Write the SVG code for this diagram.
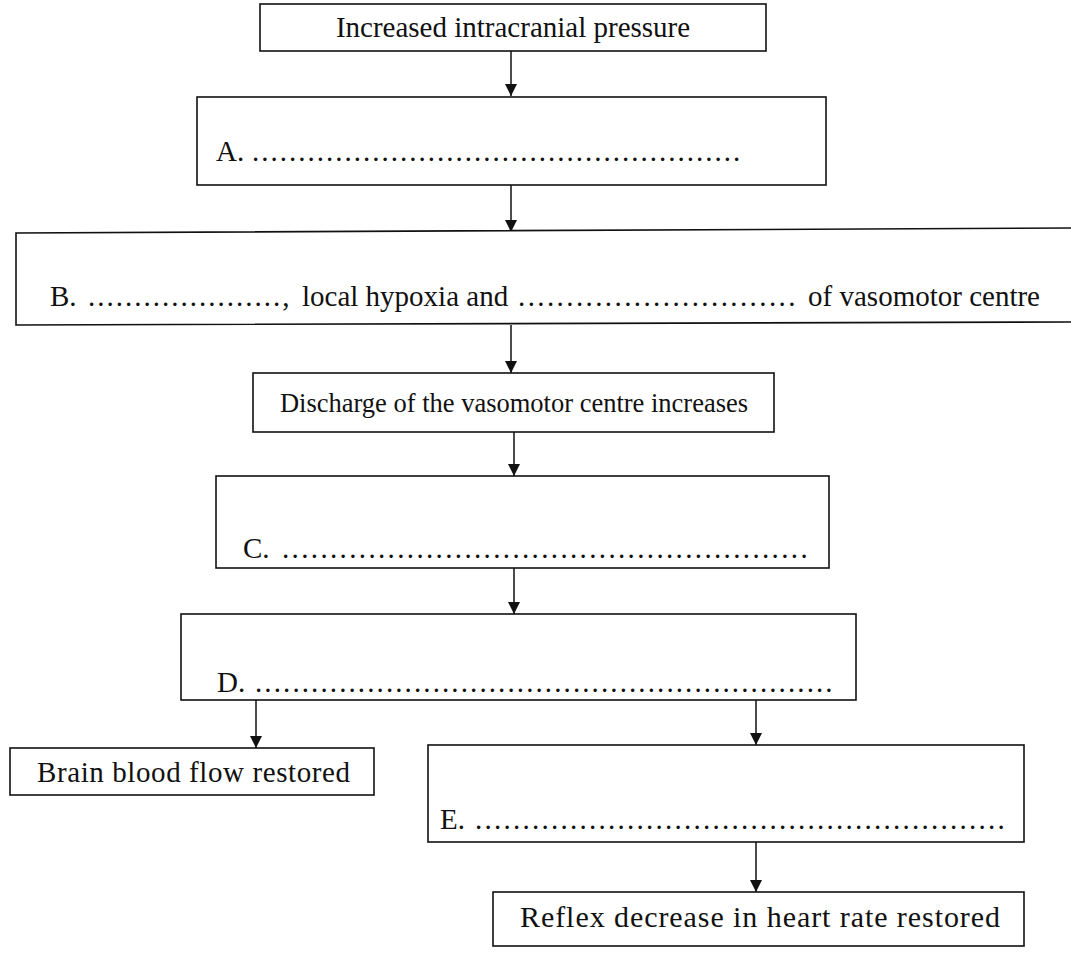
<svg xmlns="http://www.w3.org/2000/svg" width="1071" height="974" viewBox="0 0 1071 974">
<style>
.box{fill:#fff;stroke:#111;stroke-width:1.6}
.t{font-family:"Liberation Serif","Times New Roman",serif;font-size:29px;fill:#111}
.c{stroke:#111;stroke-width:1.5;fill:none}
</style>
<defs>
<marker id="ah" viewBox="0 0 12 14" refX="12" refY="7" markerWidth="12" markerHeight="14" markerUnits="userSpaceOnUse" orient="auto">
<path d="M0,1 L12,7 L0,13 Z" fill="#111"/>
</marker>
</defs>
<rect width="1071" height="974" fill="#fff"/>
<g id="connectors">
<line class="c" x1="511" y1="51" x2="511" y2="96" marker-end="url(#ah)"/>
<line class="c" x1="511" y1="185" x2="511" y2="232" marker-end="url(#ah)"/>
<line class="c" x1="511" y1="325" x2="511" y2="373" marker-end="url(#ah)"/>
<line class="c" x1="514" y1="432" x2="514" y2="476" marker-end="url(#ah)"/>
<line class="c" x1="514" y1="568" x2="514" y2="614" marker-end="url(#ah)"/>
<line class="c" x1="256" y1="700" x2="256" y2="748" marker-end="url(#ah)"/>
<line class="c" x1="756" y1="700" x2="756" y2="745" marker-end="url(#ah)"/>
<line class="c" x1="756" y1="842" x2="756" y2="892" marker-end="url(#ah)"/>
</g>
<g id="n1"><rect class="box" x="260" y="4" width="506" height="47"/><text class="t" x="513" y="37" text-anchor="middle">Increased intracranial pressure</text></g>
<g id="nA"><rect class="box" x="197" y="97" width="629" height="88"/><text class="t" x="216" y="161">A.<tspan x="252" letter-spacing="2">.....................................................</tspan></text></g>
<g id="nB"><path class="box" d="M1072,228 L16,233 L16,325 L1072,322"/>
<text class="t" x="50" y="306">B.<tspan x="88" letter-spacing="2">.....................</tspan>,<tspan x="302">local hypoxia and</tspan><tspan x="518" letter-spacing="2.4">.............................</tspan><tspan x="1040" text-anchor="end">of vasomotor centre</tspan></text></g>
<g id="nDis"><rect class="box" x="253" y="373" width="521" height="59"/><text class="t" x="514" y="412" style="font-size:26.5px" text-anchor="middle">Discharge of the vasomotor centre increases</text></g>
<g id="nC"><rect class="box" x="216" y="476" width="613" height="92"/><text class="t" x="243" y="558">C.<tspan x="282" letter-spacing="2.35">.......................................................</tspan></text></g>
<g id="nD"><rect class="box" x="181" y="614" width="675" height="86"/><text class="t" x="217" y="692">D.<tspan x="255" letter-spacing="2.1">..............................................................</tspan></text></g>
<g id="nBrain"><rect class="box" x="10" y="748" width="364" height="47"/><text class="t" x="37" y="782" textLength="313" lengthAdjust="spacing">Brain blood flow restored</text></g>
<g id="nE"><rect class="box" x="428" y="745" width="596" height="97"/><text class="t" x="440" y="829">E.<tspan x="475" letter-spacing="2.25">........................................................</tspan></text></g>
<g id="nR"><rect class="box" x="493" y="892" width="531" height="54"/><text class="t" x="520" y="927" style="font-size:30px" textLength="480" lengthAdjust="spacing">Reflex decrease in heart rate restored</text></g>
</svg>
